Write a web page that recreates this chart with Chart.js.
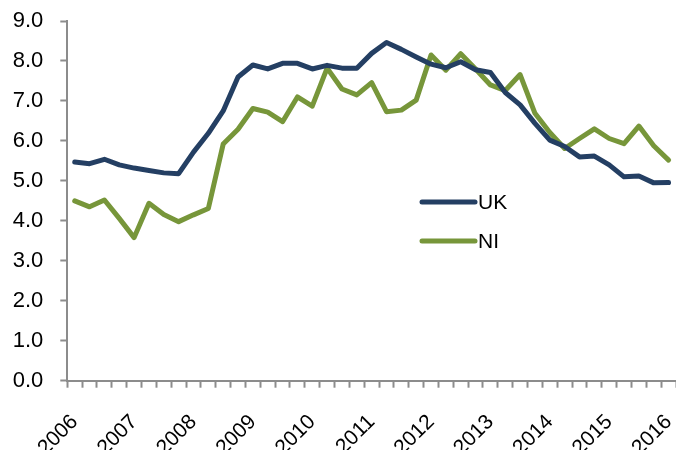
<!DOCTYPE html>
<html>
<head>
<meta charset="utf-8">
<script src="https://cdn.jsdelivr.net/npm/chart.js@4"></script>
<style>
  html, body { margin: 0; padding: 0; background: #fff; }
  #wrap { width: 676px; height: 450px; }
</style>
</head>
<body>
<div id="wrap"><canvas id="chart" width="676" height="450"></canvas></div>
<script>
const quarters = [
  "Q1 2006", "Q2 2006", "Q3 2006", "Q4 2006",
  "Q1 2007", "Q2 2007", "Q3 2007", "Q4 2007",
  "Q1 2008", "Q2 2008", "Q3 2008", "Q4 2008",
  "Q1 2009", "Q2 2009", "Q3 2009", "Q4 2009",
  "Q1 2010", "Q2 2010", "Q3 2010", "Q4 2010",
  "Q1 2011", "Q2 2011", "Q3 2011", "Q4 2011",
  "Q1 2012", "Q2 2012", "Q3 2012", "Q4 2012",
  "Q1 2013", "Q2 2013", "Q3 2013", "Q4 2013",
  "Q1 2014", "Q2 2014", "Q3 2014", "Q4 2014",
  "Q1 2015", "Q2 2015", "Q3 2015", "Q4 2015",
  "Q1 2016"
];

const ukValues = [
  5.47, 5.43, 5.54, 5.40, 5.32, 5.26, 5.20, 5.18, 5.72, 6.19,
  6.75, 7.60, 7.90, 7.80, 7.94, 7.94, 7.80, 7.89, 7.82, 7.82,
  8.19, 8.46, 8.29, 8.10, 7.92, 7.83, 7.98, 7.78, 7.71, 7.21,
  6.90, 6.44, 6.02, 5.86, 5.60, 5.62, 5.40, 5.10, 5.12, 4.95,
  4.96
];

const niValues = [
  4.50, 4.35, 4.52, 4.06, 3.58, 4.44, 4.16, 3.98, 4.15, 4.31,
  5.92, 6.29, 6.81, 6.72, 6.48, 7.10, 6.87, 7.82, 7.30, 7.15,
  7.46, 6.73, 6.77, 7.02, 8.15, 7.77, 8.18, 7.80, 7.40, 7.26,
  7.66, 6.69, 6.21, 5.81, 6.06, 6.30, 6.06, 5.93, 6.37, 5.88,
  5.52
];

// year label shown under the first quarter of each year
const yearTicks = ["2006", "2007", "2008", "2009", "2010", "2011",
                   "2012", "2013", "2014", "2015", "2016"];

const FONT = "'Liberation Sans', Arial, sans-serif";
const axisGrey = "#8c8c8c";

// legend drawn inside the plot, as in the original
const innerLegend = {
  id: "innerLegend",
  afterDraw(chart) {
    const ctx = chart.ctx;
    const x0 = 422, x1 = 475;
    const rows = [202, 241];
    ctx.save();
    chart.data.datasets.forEach((ds, i) => {
      const y = rows[i];
      ctx.strokeStyle = ds.borderColor;
      ctx.lineWidth = 5;
      ctx.lineCap = "round";
      ctx.beginPath();
      ctx.moveTo(x0, y);
      ctx.lineTo(x1, y);
      ctx.stroke();
      ctx.fillStyle = "#000";
      ctx.font = "21px " + FONT;
      ctx.textBaseline = "middle";
      ctx.textAlign = "left";
      ctx.fillText(ds.label, x1 + 3, y + 1);
    });
    ctx.restore();
  }
};

new Chart(document.getElementById("chart").getContext("2d"), {
  type: "line",
  data: {
    labels: quarters,
    datasets: [
      {
        label: "UK",
        data: ukValues,
        borderColor: "#243f63",
        borderWidth: 5,
        pointRadius: 0,
        tension: 0,
        borderJoinStyle: "round",
        borderCapStyle: "round"
      },
      {
        label: "NI",
        data: niValues,
        borderColor: "#77963a",
        borderWidth: 5,
        pointRadius: 0,
        tension: 0,
        borderJoinStyle: "round",
        borderCapStyle: "round"
      }
    ]
  },
  options: {
    responsive: false,
    animation: false,
    layout: { padding: { top: 21, right: 0, bottom: 0, left: 0 } },
    plugins: {
      legend: { display: false },
      tooltip: { enabled: false }
    },
    scales: {
      x: {
        offset: true,
        grid: {
          offset: true,
          drawOnChartArea: false,
          tickLength: 7,
          tickWidth: 2,
          tickColor: axisGrey
        },
        border: { color: axisGrey, width: 2 },
        ticks: {
          autoSkip: false,
          maxRotation: 45,
          minRotation: 45,
          padding: 22,
          color: "#000",
          font: { family: FONT, size: 21 },
          callback: function (value) {
            const q = quarters[value];
            const yr = q.slice(3);
            return q.startsWith("Q1") && yearTicks.includes(yr) ? yr : "";
          }
        },
        afterFit: function (scale) {
          scale.height = 69.3;
          scale.paddingLeft = 0;
          scale.paddingRight = 0;
        }
      },
      y: {
        min: 0,
        max: 9,
        grid: {
          drawOnChartArea: false,
          tickLength: 7,
          tickWidth: 2,
          tickColor: axisGrey
        },
        border: { color: axisGrey, width: 2 },
        ticks: {
          stepSize: 1,
          padding: 17,
          color: "#000",
          font: { family: FONT, size: 22 },
          callback: v => v.toFixed(1)
        },
        afterFit: function (scale) {
          scale.width = 67.3;
          scale.paddingTop = 0;
          scale.paddingBottom = 0;
        }
      }
    }
  },
  plugins: [innerLegend]
});
</script>
</body>
</html>
